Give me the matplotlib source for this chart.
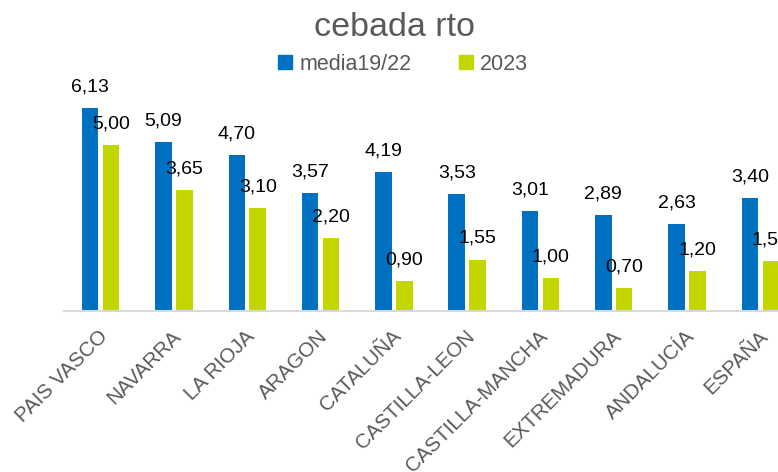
import matplotlib.pyplot as plt
from matplotlib.patches import Patch
import numpy as np

plt.rcParams['font.family'] = ['Liberation Sans', 'DejaVu Sans']

categories = ['PAIS VASCO', 'NAVARRA', 'LA RIOJA', 'ARAGON', 'CATALUÑA',
              'CASTILLA-LEON', 'CASTILLA-MANCHA', 'EXTREMADURA', 'ANDALUCÍA', 'ESPAÑA']
media_19_22 = [6.13, 5.09, 4.70, 3.57, 4.19, 3.53, 3.01, 2.89, 2.63, 3.40]
rto_2023 = [5.00, 3.65, 3.10, 2.20, 0.90, 1.55, 1.00, 0.70, 1.20, 1.50]
series_names = ['media19/22', '2023']

BLUE = '#0070C0'
GREEN = '#C4D600'
GREY = '#595959'

fig = plt.figure(figsize=(7.78, 4.72), dpi=100)
# axes runs a bit past the right edge, like the cropped original
ax = fig.add_axes([64 / 778, 161 / 472, 733 / 778, 232 / 472])

x = np.arange(len(categories))
w = 0.225
off = 0.143
b1 = ax.bar(x - off, media_19_22, w, color=BLUE)
b2 = ax.bar(x + off, rto_2023, w, color=GREEN)

# value labels, spanish decimal comma
for bars, vals in ((b1, media_19_22), (b2, rto_2023)):
    for r, v in zip(bars, vals):
        ax.annotate(f"{v:.2f}".replace('.', ','),
                    (r.get_x() + r.get_width() / 2, v),
                    xytext=(0, 12), textcoords='offset points',
                    ha='center', va='baseline', fontsize=14, color='black')

ax.set_xlim(-0.5, len(categories) - 0.5)
ax.set_ylim(0, 7)
ax.set_yticks([])
ax.set_xticks(x + 0.06)
ax.set_xticklabels(categories, rotation=45, ha='right', va='center',
                   rotation_mode='anchor', fontsize=14.8, color=GREY)
ax.tick_params(axis='x', length=0, pad=16)
for s in ['top', 'right', 'left']:
    ax.spines[s].set_visible(False)
ax.spines['bottom'].set_color('#D9D9D9')
ax.spines['bottom'].set_linewidth(1.5)
ax.patch.set_alpha(0)

fig.text(394 / 778, 1 - 36 / 472, 'cebada rto', ha='center', va='baseline',
         fontsize=24.5, color=GREY)

handles = [Patch(color=BLUE), Patch(color=GREEN)]
fig.legend(handles, series_names, loc='center', bbox_to_anchor=(403 / 778, 1 - 64 / 472),
           ncol=2, frameon=False, fontsize=15.5, labelcolor=GREY,
           handlelength=0.65, handleheight=0.65, handletextpad=0.35, columnspacing=2.2)

fig.savefig('out.png', dpi=100)
